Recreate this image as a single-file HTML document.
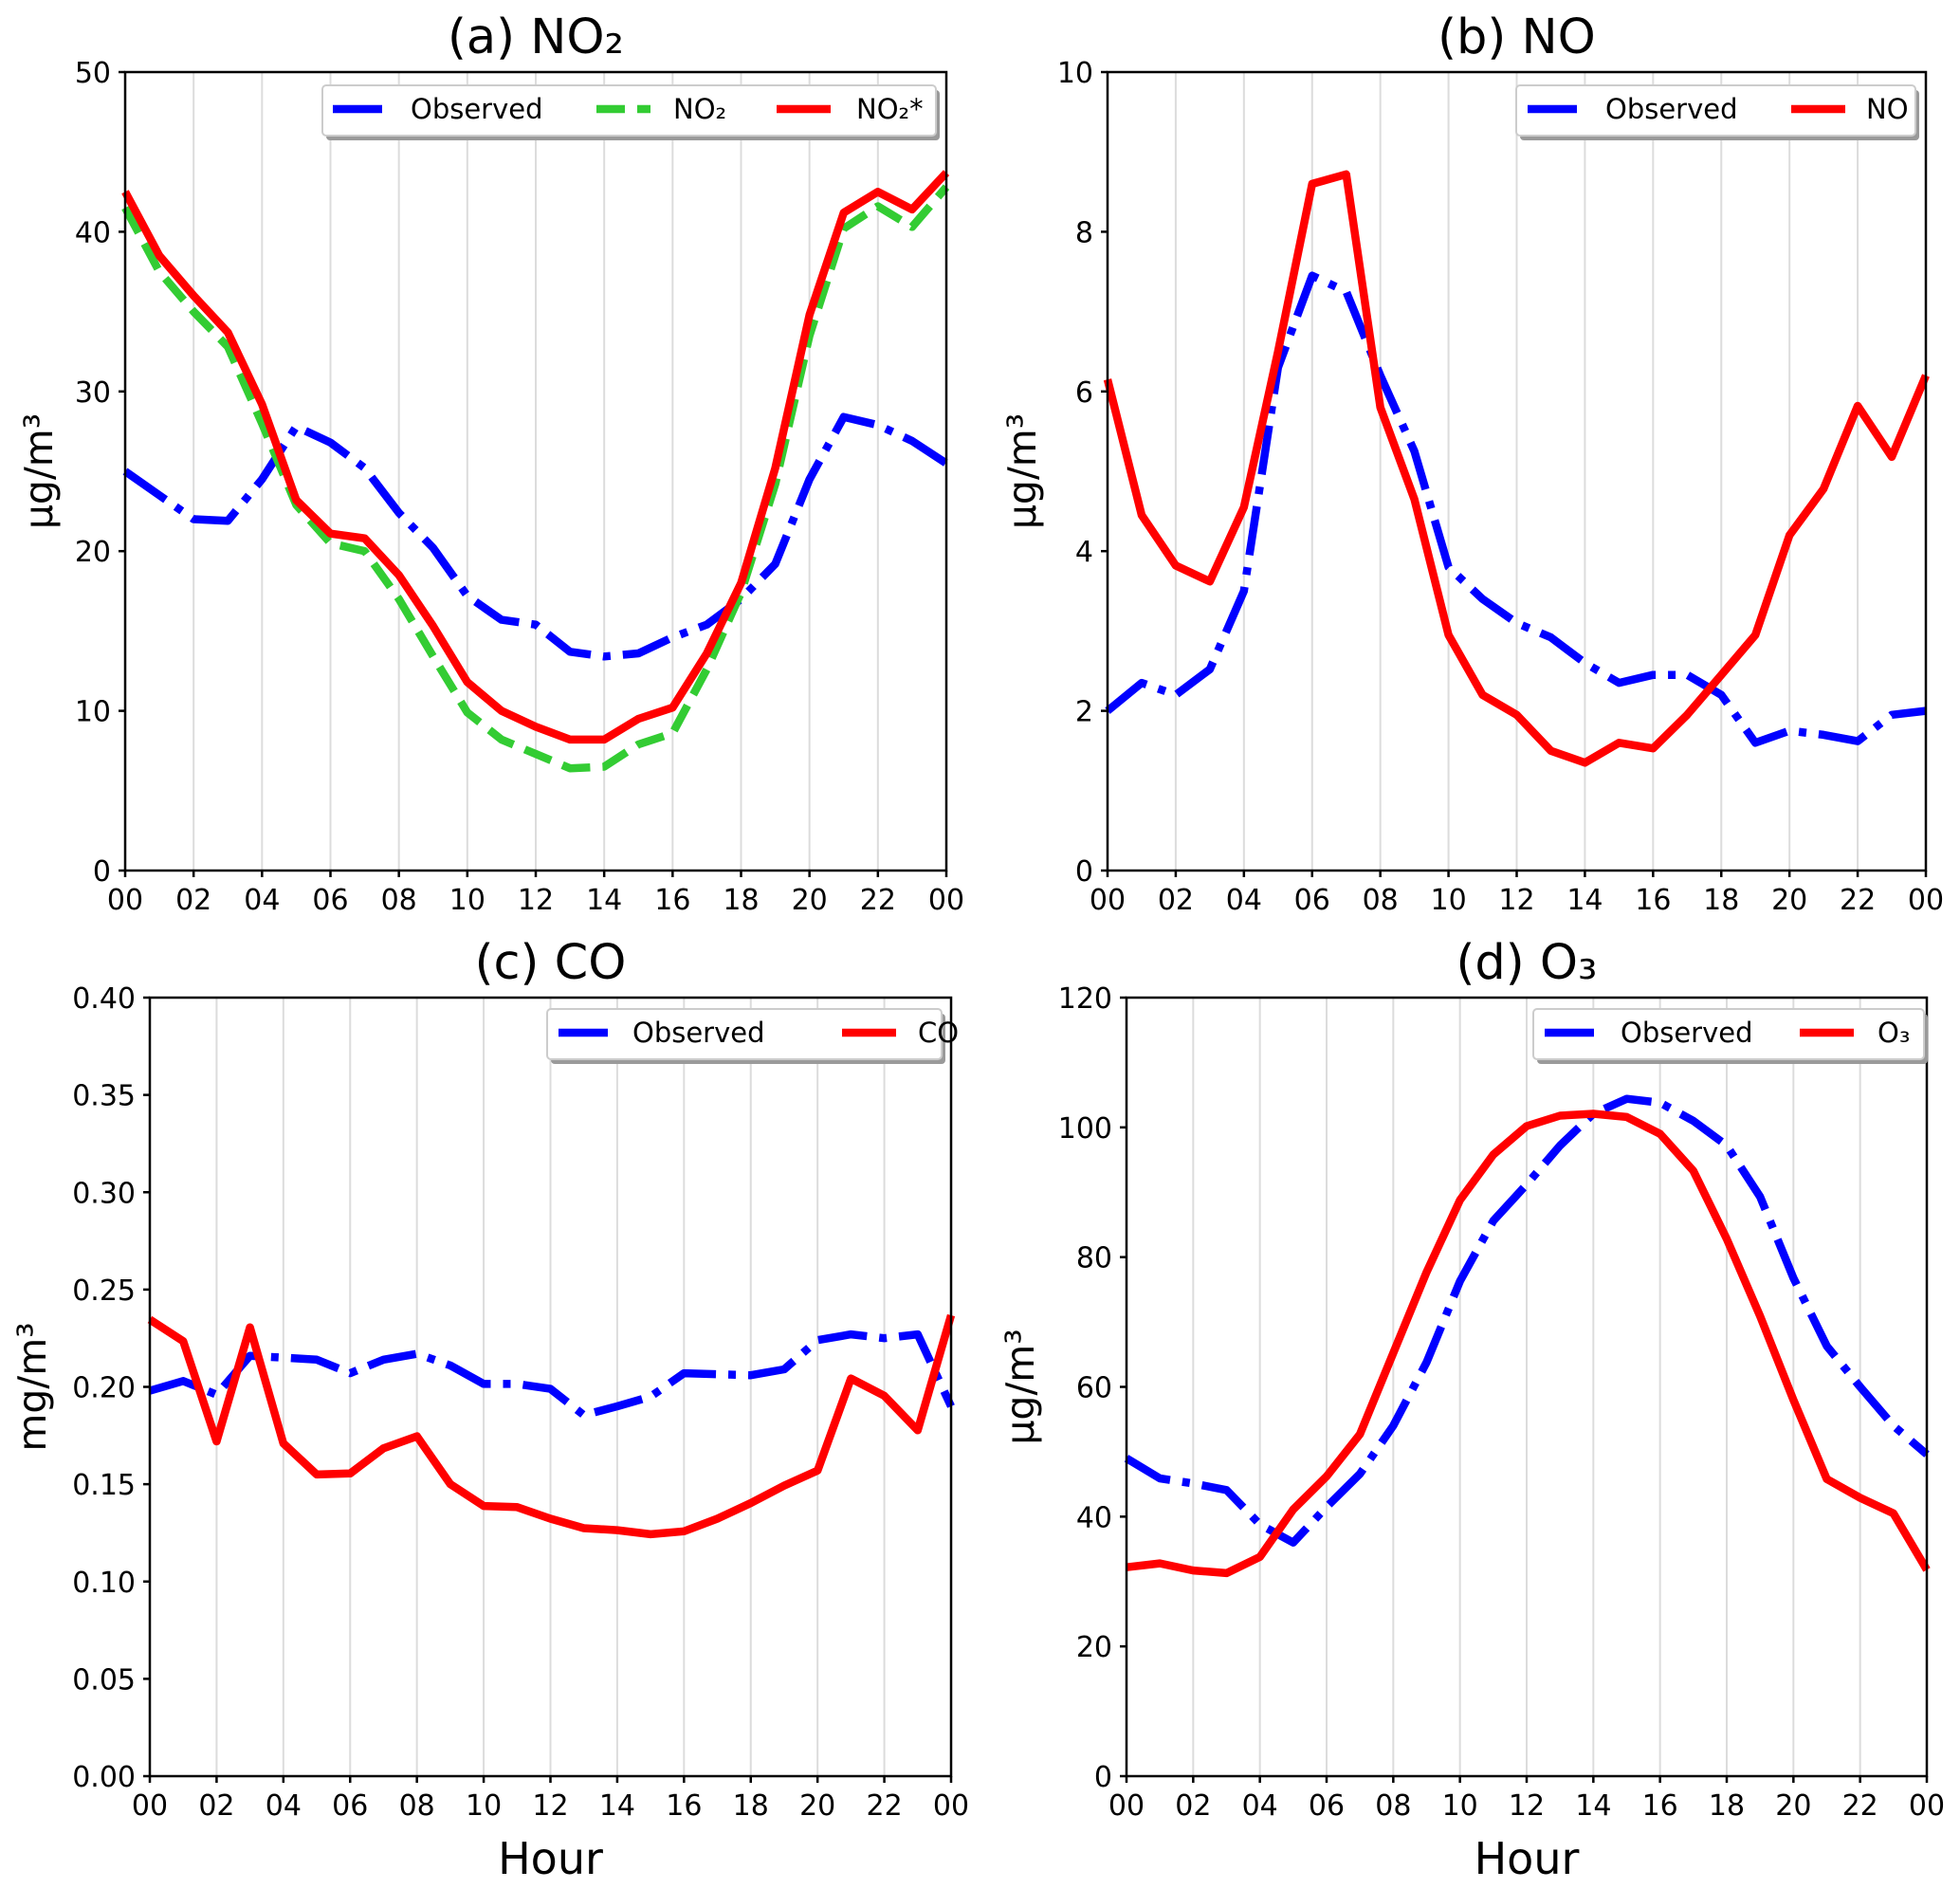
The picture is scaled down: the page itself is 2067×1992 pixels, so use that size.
<!DOCTYPE html>
<html><head><meta charset="utf-8">
<style>
html,body{margin:0;padding:0;background:#fff;}
svg{display:block;font-family:"DejaVu Sans","Liberation Sans",sans-serif;}
</style></head>
<body>
<svg id="fig" width="2067" height="1992" viewBox="0 0 2067 1992" xmlns="http://www.w3.org/2000/svg"></svg>
<script>
const hours = [0,1,2,3,4,5,6,7,8,9,10,11,12,13,14,15,16,17,18,19,20,21,22,23,24];
const xTickLabels = ["00","02","04","06","08","10","12","14","16","18","20","22","00"];

const aObserved = [25,23.5,22,21.9,24.5,27.8,26.8,25.2,22.4,20.2,17.2,15.7,15.4,13.7,13.4,13.6,14.6,15.4,17,19.2,24.5,28.4,27.9,26.9,25.5];
const aNO2 = [41.5,37.5,35,32.8,28,22.9,20.5,20,17,13.4,9.9,8.2,7.3,6.4,6.5,7.9,8.6,12.6,17.4,24.2,33.5,40.2,41.6,40.3,42.8];
const aNO2star = [42.5,38.5,36,33.7,29.2,23.2,21.1,20.8,18.5,15.3,11.8,10,9,8.2,8.2,9.5,10.2,13.6,18,25.2,34.8,41.2,42.5,41.4,43.7];
const aYTicks = [0,10,20,30,40,50];

const bObserved = [2.0,2.35,2.2,2.52,3.5,6.3,7.45,7.25,6.2,5.25,3.8,3.4,3.1,2.92,2.6,2.35,2.45,2.45,2.2,1.6,1.75,1.7,1.62,1.95,2.0];
const bNO = [6.15,4.45,3.82,3.62,4.55,6.5,8.6,8.72,5.8,4.65,2.95,2.2,1.95,1.5,1.35,1.6,1.53,1.95,2.45,2.95,4.2,4.78,5.82,5.18,6.2];
const bYTicks = [0,2,4,6,8,10];

const cObserved = [0.198,0.203,0.196,0.216,0.215,0.214,0.207,0.214,0.217,0.211,0.2015,0.2015,0.199,0.1855,0.19,0.195,0.207,0.2065,0.206,0.209,0.224,0.227,0.225,0.227,0.19];
const cCO = [0.2346,0.2235,0.172,0.2306,0.171,0.155,0.1555,0.1685,0.1746,0.150,0.1388,0.1382,0.1323,0.1274,0.1264,0.1243,0.1258,0.1323,0.1403,0.1493,0.157,0.2043,0.1954,0.1777,0.2368];
const cYTicks = ["0.00","0.05","0.10","0.15","0.20","0.25","0.30","0.35","0.40"];

const dObserved = [49,45.9,45.1,44.1,38.8,36,41.5,46.6,54,63.8,76.3,85.6,91.2,97.2,102.1,104.4,103.8,101,97.2,89.3,76.8,66.3,60,54,49.6];
const dO3 = [32.2,32.8,31.7,31.3,33.8,41.1,46.2,52.7,65.2,77.7,88.8,95.8,100.2,101.8,102.1,101.6,99,93.3,82.8,70.9,58,45.8,42.9,40.5,31.8];
const dYTicks = [0,20,40,60,80,100,120];

const NS = "http://www.w3.org/2000/svg";
const svg = document.getElementById("fig");
function mk(tag, attrs, parent){
  const e = document.createElementNS(NS, tag);
  for (const k in attrs) e.setAttribute(k, attrs[k]);
  (parent||svg).appendChild(e);
  return e;
}
const STY = {
  obs:{stroke:"#0000ff", dash:"52 13 8 13"},
  green:{stroke:"#33cc33", dash:"30 13"},
  red:{stroke:"#ff0000", dash:""}
};

function panel(p){
  const g = mk("g", {});
  
  
  const xs = h => p.L + (p.R - p.L) * h / 24;
  const ys = v => p.B - (p.B - p.T) * (v - p.ymin) / (p.ymax - p.ymin);
  for (let i = 1; i < xTickLabels.length - 1; i++) {
    const gl = mk("line", {x1:xs(i*2), x2:xs(i*2), y1:p.T, y2:p.B, stroke:"#dcdcdc", "stroke-width":2}, g);
    
    
  }
  p.series.forEach(s => {
    const d = hours.map((h,i) => (i?"L":"M") + xs(h).toFixed(1) + " " + ys(s.data[i]).toFixed(1)).join(" ");
    const st = STY[s.style];
    const path = mk("path", {d:d, fill:"none", stroke:st.stroke, "stroke-width":8.5, "stroke-linejoin":"round", "stroke-dasharray":st.dash}, g);
    
    
  });
  const fr = mk("rect", {x:p.L, y:p.T, width:p.R-p.L, height:p.B-p.T, fill:"none", stroke:"#000", "stroke-width":2.5}, g);
  
  
  xTickLabels.forEach((lab, i) => {
    const x = xs(i*2);
    mk("line", {x1:x, x2:x, y1:p.B, y2:p.B+7, stroke:"#000", "stroke-width":2.5}, g);
    const t = mk("text", {x:x, y:p.B+41, "font-size":30, "text-anchor":"middle", fill:"#000"}, g);
    t.textContent = lab;
    
    
  });
  p.yticks.forEach(lab => {
    const y = ys(parseFloat(lab));
    mk("line", {x1:p.L-7, x2:p.L, y1:y, y2:y, stroke:"#000", "stroke-width":2.5}, g);
    const t = mk("text", {x:p.L-15, y:y+11, "font-size":30, "text-anchor":"end", fill:"#000"}, g);
    t.textContent = lab;
    
    
  });
  const tt = mk("text", {x:(p.L+p.R)/2, y:p.T-20, "font-size":51, "text-anchor":"middle", fill:"#000"}, g);
  tt.textContent = p.title;
  
  
  const yl = mk("text", {x:0, y:0, "font-size":41, "text-anchor":"middle", fill:"#000", transform:`translate(${p.ylx},${(p.T+p.B)/2}) rotate(-90)`}, g);
  yl.textContent = p.ylabel;
  
  
  if (p.xlabel) {
    const xl = mk("text", {x:(p.L+p.R)/2, y:1976, "font-size":46, "text-anchor":"middle", fill:"#000"}, g);
    xl.textContent = "Hour";
    
    
  }
  const lg = p.legend;
  const lgG = mk("g", {}, g);
  
  
  mk("rect", {x:lg.x+4, y:lg.y+5, width:lg.w, height:53, rx:4, fill:"#9a9a9a"}, lgG);
  mk("rect", {x:lg.x, y:lg.y, width:lg.w, height:53, rx:4, fill:"#fff", stroke:"#cccccc", "stroke-width":2}, lgG);
  lg.items.forEach(it => {
    const st = STY[it.style];
    const ly = lg.y + 25;
    const hl = mk("line", {x1:it.hx, x2:it.hx+57, y1:ly, y2:ly, stroke:st.stroke, "stroke-width":8.5, "stroke-dasharray":st.dash}, lgG);
    
    
    const t = mk("text", {x:it.tx, y:ly+10, "font-size":29, fill:"#000"}, lgG);
    t.textContent = it.label;
    
    
  });
}

panel({id:"a", L:132, R:998, T:76, B:918, ymin:0, ymax:50, yticks:aYTicks.map(String),
  title:"(a) NO₂", ylabel:"µg/m³", ylx:55,
  series:[{name:"observed-no2-line",style:"obs",data:aObserved},{name:"model-no2-line",style:"green",data:aNO2},{name:"model-no2-star-line",style:"red",data:aNO2star}],
  legend:{x:340,y:90,w:647,items:[{style:"obs",hx:351,tx:433,label:"Observed"},{style:"green",hx:629,tx:710,label:"NO₂"},{style:"red",hx:819,tx:903,label:"NO₂*"}]}});
panel({id:"b", L:1168, R:2031, T:76, B:918, ymin:0, ymax:10, yticks:bYTicks.map(String),
  title:"(b) NO", ylabel:"µg/m³", ylx:1092,
  series:[{name:"observed-no-line",style:"obs",data:bObserved},{name:"model-no-line",style:"red",data:bNO}],
  legend:{x:1599,y:90,w:421,items:[{style:"obs",hx:1611,tx:1693,label:"Observed"},{style:"red",hx:1889,tx:1968,label:"NO"}]}});
panel({id:"c", L:158, R:1003, T:1052, B:1873, ymin:0, ymax:0.4, yticks:cYTicks,
  title:"(c) CO", ylabel:"mg/m³", ylx:48, xlabel:true,
  series:[{name:"observed-co-line",style:"obs",data:cObserved},{name:"model-co-line",style:"red",data:cCO}],
  legend:{x:577,y:1064,w:416,items:[{style:"obs",hx:589,tx:667,label:"Observed"},{style:"red",hx:888,tx:968,label:"CO"}]}});
panel({id:"d", L:1188, R:2032, T:1052, B:1873, ymin:0, ymax:120, yticks:dYTicks.map(String),
  title:"(d) O₃", ylabel:"µg/m³", ylx:1090, xlabel:true,
  series:[{name:"observed-o3-line",style:"obs",data:dObserved},{name:"model-o3-line",style:"red",data:dO3}],
  legend:{x:1617,y:1064,w:412,items:[{style:"obs",hx:1629,tx:1709,label:"Observed"},{style:"red",hx:1898,tx:1980,label:"O₃"}]}});
</script>
</body></html>
